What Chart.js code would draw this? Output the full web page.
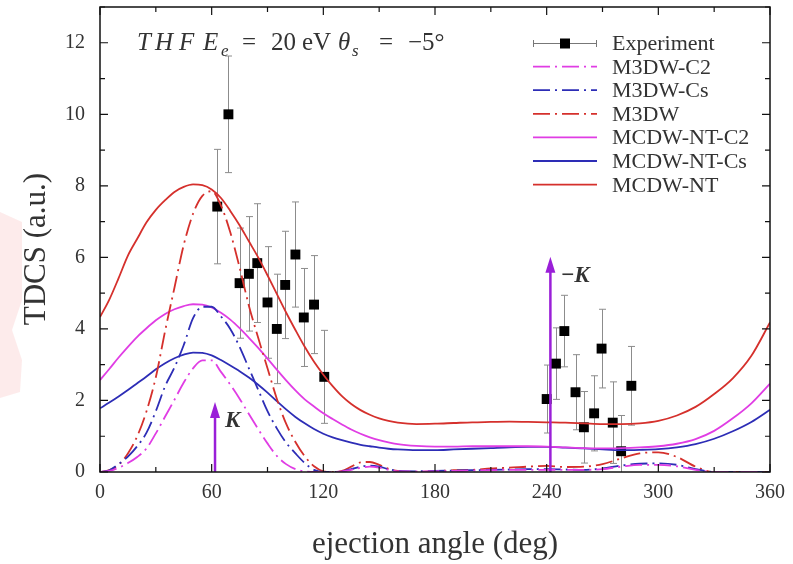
<!DOCTYPE html>
<html><head><meta charset="utf-8">
<script src="https://cdn.jsdelivr.net/npm/chart.js@4.4.1/dist/chart.umd.min.js"></script>
<style>
html,body{margin:0;padding:0;background:#fff;}
#wrap{position:relative;width:793px;height:564px;overflow:hidden;}
canvas{display:block;}
</style></head><body>
<div id="wrap"><canvas id="c" width="793" height="564"></canvas></div>
<script>
// ---------- data ----------
const angles = [0,5,10,15,20,25,30,35,40,45,50,55,60,65,70,75,80,85,90,95,100,105,110,115,120,125,130,135,140,145,150,155,160,170,180,190,200,210,220,230,240,250,260,270,280,290,300,310,320,330,340,350,360];

const mcdwNT = [4.33,4.82,5.42,6.05,6.52,6.98,7.33,7.6,7.83,7.97,
8.04,8.02,7.9,7.66,7.3,6.9,6.45,6.0,5.5,4.98,
4.46,3.97,3.5,3.08,2.72,2.4,2.12,1.9,1.73,1.6,
1.5,1.43,1.38,1.34,1.35,1.37,1.39,1.4,1.41,1.4,
1.39,1.38,1.36,1.34,1.34,1.36,1.43,1.58,1.82,2.18,
2.62,3.25,4.18];

const mcdwNTC2 = [2.57,2.88,3.2,3.5,3.78,4.02,4.24,4.42,4.55,4.64,
4.69,4.68,4.6,4.45,4.26,4.02,3.75,3.47,3.17,2.86,
2.56,2.28,2.03,1.83,1.64,1.48,1.33,1.19,1.07,0.97,
0.89,0.83,0.78,0.73,0.71,0.71,0.72,0.72,0.72,0.72,
0.71,0.69,0.67,0.66,0.67,0.69,0.72,0.79,0.92,1.15,
1.5,1.92,2.47];

const mcdwNTCs = [1.78,1.94,2.11,2.29,2.48,2.67,2.87,3.04,3.18,3.28,
3.34,3.33,3.26,3.13,2.98,2.82,2.64,2.44,2.22,1.98,
1.75,1.54,1.36,1.2,1.07,0.97,0.89,0.82,0.76,0.72,
0.68,0.65,0.63,0.61,0.61,0.63,0.65,0.67,0.69,0.7,
0.7,0.68,0.66,0.63,0.61,0.62,0.64,0.69,0.78,0.93,
1.14,1.4,1.74];

const m3dw = [0,0.05,0.2,0.52,1.0,1.7,2.65,3.95,5.15,6.35,
7.22,7.72,7.85,7.45,6.7,5.72,4.65,3.75,2.9,2.05,
1.35,0.84,0.44,0.16,0.02,0,0.03,0.15,0.27,0.28,
0.2,0.09,0.03,0,0.02,0.05,0.06,0.1,0.12,0.15,
0.17,0.14,0.15,0.22,0.38,0.52,0.55,0.42,0.15,0,
0,0,0];

const m3dwCs = [0,0.05,0.22,0.43,0.72,1.1,1.7,2.4,2.92,3.55,
4.3,4.62,4.62,4.35,4.0,3.5,2.9,2.3,1.7,1.22,
0.82,0.52,0.25,0.06,0,0,0.02,0.08,0.15,0.18,
0.15,0.08,0.03,0.02,0.03,0.04,0.05,0.06,0.07,0.08,
0.08,0.07,0.06,0.1,0.18,0.23,0.24,0.2,0.08,0,
0,0,0];

const m3dwC2 = [0,0.03,0.12,0.25,0.42,0.66,1.08,1.55,2.02,2.5,
2.9,3.12,3.12,2.8,2.44,2.05,1.62,1.2,0.8,0.45,
0.22,0.08,0.02,0,0,0,0.02,0.06,0.12,0.15,
0.12,0.06,0.02,0.02,0.02,0.03,0.04,0.05,0.06,0.06,
0.06,0.06,0.06,0.08,0.15,0.2,0.2,0.16,0.06,0,
0,0,0];

const expAngle = [63,69,75,80,84.5,90,95,99.5,105,109.5,115,120.5,240,245,249.5,255.5,260,265.5,269.5,275.5,280,285.5];
const expTDCS  = [7.42,10.0,5.28,5.54,5.84,4.74,4.0,5.23,6.08,4.32,4.68,2.66,2.04,3.03,3.94,2.23,1.25,1.64,3.45,1.38,0.58,2.41];
const expErr   = [1.6,1.63,1.54,1.6,1.66,1.56,1.53,1.5,1.47,1.37,1.37,1.3,0.95,1.0,1.0,1.05,1.0,1.05,1.1,1.14,1.0,1.1];

const arrowAngles = [61.8, 242];
const arrowTops   = [1.96, 6.02];
const arrowLabels = ['K', '\u2212K'];

const xTickLabels = [0,60,120,180,240,300,360];
const yTickLabels = [0,2,4,6,8,10,12];

const seriesNames = ['Experiment','M3DW-C2','M3DW-Cs','M3DW','MCDW-NT-C2','MCDW-NT-Cs','MCDW-NT'];
const yTitle = 'TDCS (a.u.)';

// ---------- styles ----------
const RED = '#d5302c', MAG = '#e03de4', BLUE = '#2d2db6', PURP = '#9a1fd8';
const DASHDOT = [17,5,2,5];
const SERIF = "'Liberation Serif', 'Times New Roman', serif";
const TXT = '#333';

const pts = arr => angles.map((a,i)=>({x:a, y:arr[i]}));

function lineDs(label, arr, color, dash){
  return {label, data: pts(arr), borderColor: color, backgroundColor: color,
    borderWidth: 1.8, borderDash: dash || [], pointRadius: 0, fill: false,
    cubicInterpolationMode: 'monotone', order: 1};
}

const datasets = [
  {label:'Experiment', data: expAngle.map((a,i)=>({x:a,y:expTDCS[i]})), showLine:false,
   pointStyle:'rect', pointRadius:7, backgroundColor:'#000', borderColor:'#000', borderWidth:0, order: 10},
  lineDs('M3DW-C2', m3dwC2, MAG, DASHDOT),
  lineDs('M3DW-Cs', m3dwCs, BLUE, DASHDOT),
  lineDs('M3DW', m3dw, RED, DASHDOT),
  lineDs('MCDW-NT-C2', mcdwNTC2, MAG),
  lineDs('MCDW-NT-Cs', mcdwNTCs, BLUE),
  lineDs('MCDW-NT', mcdwNT, RED)
];

// ---------- plugins ----------
const errorBars = {
  id:'errorBars',
  beforeDatasetsDraw(chart){
    const {ctx, chartArea:ca, scales:{x,y}} = chart;
    ctx.save();
    ctx.beginPath(); ctx.rect(ca.left, ca.top, ca.right-ca.left, ca.bottom-ca.top); ctx.clip();
    ctx.strokeStyle = '#8c8c8c'; ctx.lineWidth = 1;
    expAngle.forEach((a,i)=>{
      const px = Math.round(x.getPixelForValue(a))+0.5;
      const yt = y.getPixelForValue(expTDCS[i]+expErr[i]);
      const yb = y.getPixelForValue(expTDCS[i]-expErr[i]);
      ctx.beginPath();
      ctx.moveTo(px, yt); ctx.lineTo(px, yb);
      ctx.moveTo(px-3.5, yt); ctx.lineTo(px+3.5, yt);
      ctx.moveTo(px-3.5, yb); ctx.lineTo(px+3.5, yb);
      ctx.stroke();
    });
    ctx.restore();
  }
};

const frame = {
  id:'frame',
  beforeDraw(chart){
    const {ctx} = chart;
    ctx.save();
    ctx.fillStyle = '#fff'; ctx.fillRect(0,0,chart.width,chart.height);
    // faint pink watermark at left edge
    ctx.fillStyle = 'rgba(245,170,170,0.24)';
    ctx.beginPath();
    ctx.moveTo(0,212); ctx.lineTo(22,222); ctx.lineTo(22,300); ctx.lineTo(12,330);
    ctx.lineTo(22,360); ctx.lineTo(20,392); ctx.lineTo(0,398); ctx.closePath(); ctx.fill();
    ctx.restore();
  },
  afterDatasetsDraw(chart){
    const {ctx, chartArea:ca, scales:{x,y}} = chart;
    ctx.save();
    // arrows
    ctx.lineWidth = 2.5;
    arrowAngles.forEach((a,i)=>{
      const px = x.getPixelForValue(a);
      const y0 = y.getPixelForValue(0);
      const yt = y.getPixelForValue(arrowTops[i]);
      ctx.strokeStyle = PURP; ctx.fillStyle = PURP;
      ctx.beginPath(); ctx.moveTo(px, y0); ctx.lineTo(px, yt+12); ctx.stroke();
      ctx.beginPath(); ctx.moveTo(px, yt); ctx.lineTo(px-5, yt+16); ctx.lineTo(px+5, yt+16); ctx.closePath(); ctx.fill();
      ctx.fillStyle = TXT;
      ctx.font = "bold italic 23px " + SERIF;
      ctx.textBaseline = 'middle'; ctx.textAlign = 'left';
      ctx.fillText(arrowLabels[i], px+10, yt+19);
    });
    // border
    ctx.strokeStyle = '#111'; ctx.lineWidth = 1.5;
    ctx.strokeRect(ca.left, ca.top, ca.right-ca.left, ca.bottom-ca.top);
    // inward ticks
    ctx.lineWidth = 1.2;
    ctx.beginPath();
    for (let v=0; v<=360; v+=30){
      const px = x.getPixelForValue(v); const len = (v%60===0)?8:5;
      ctx.moveTo(px, ca.bottom); ctx.lineTo(px, ca.bottom-len);
      ctx.moveTo(px, ca.top); ctx.lineTo(px, ca.top+len);
    }
    for (let v=0; v<=13; v+=1){
      const py = y.getPixelForValue(v); const len = (v%2===0)?8:5;
      ctx.moveTo(ca.left, py); ctx.lineTo(ca.left+len, py);
      ctx.moveTo(ca.right, py); ctx.lineTo(ca.right-len, py);
    }
    ctx.stroke();
    ctx.restore();
  },
  afterDraw(chart){
    const {ctx} = chart;
    ctx.save();
    // y axis title
    ctx.save();
    ctx.translate(37, 249); ctx.rotate(-Math.PI/2);
    ctx.fillStyle = TXT; ctx.font = "31px " + SERIF;
    ctx.textAlign = 'center'; ctx.textBaseline = 'middle';
    ctx.fillText(yTitle, 0, 0);
    ctx.restore();

    // title text (math style)
    ctx.fillStyle = TXT; ctx.textBaseline = 'alphabetic'; ctx.textAlign = 'left';
    const it = "italic 25px " + SERIF, rm = "25px " + SERIF, sb = "italic 17px " + SERIF;
    const parts = [
      ['T',137,50,it],['H',155,50,it],['F',179,50,it],
      ['E',203,50,it],['e',221,56,sb],
      ['=',242,50,rm],['20',271,50,rm],['eV',302,50,rm],
      ['\u03B8',338,50,it],['s',352,56,sb],
      ['=',379,50,rm],['\u22125\u00B0',408,50,rm]
    ];
    parts.forEach(p=>{ ctx.font = p[3]; ctx.fillText(p[0], p[1], p[2]); });

    // legend
    const x0 = 533, x1 = 597, tx = 612, ry0 = 43, dy = 23.6;
    ctx.font = "22px " + SERIF;
    seriesNames.forEach((name,i)=>{
      const ry = ry0 + i*dy;
      ctx.save();
      if (i===0){
        ctx.strokeStyle = '#777'; ctx.lineWidth = 1;
        ctx.beginPath(); ctx.moveTo(x0, ry+0.5); ctx.lineTo(x1, ry+0.5);
        ctx.moveTo(x0+0.5, ry-3); ctx.lineTo(x0+0.5, ry+4);
        ctx.moveTo(x1-0.5, ry-3); ctx.lineTo(x1-0.5, ry+4);
        ctx.stroke();
        ctx.fillStyle = '#000'; ctx.fillRect((x0+x1)/2-5, ry-4.5, 10, 10);
      } else {
        const ds = datasets[i];
        ctx.strokeStyle = ds.borderColor; ctx.lineWidth = 1.8;
        ctx.setLineDash(ds.borderDash);
        ctx.beginPath(); ctx.moveTo(x0, ry); ctx.lineTo(x1, ry); ctx.stroke();
      }
      ctx.restore();
      ctx.fillStyle = TXT; ctx.textBaseline = 'alphabetic';
      ctx.fillText(name, tx, ry+7);
    });
    ctx.restore();
  }
};

new Chart(document.getElementById('c'), {
  type:'line',
  data:{datasets},
  options:{
    responsive:false, animation:false, devicePixelRatio:1,
    layout:{padding:{top:7, right:23, left:0, bottom:0}},
    plugins:{legend:{display:false}, tooltip:{enabled:false}},
    scales:{
      x:{type:'linear', min:0, max:360,
        afterBuildTicks: s => { s.ticks = xTickLabels.map(v=>({value:v})); },
        afterFit: s => { s.height = 92; s.paddingLeft = 0; s.paddingRight = 0; },
        grid:{display:false, drawTicks:false},
        border:{display:false},
        ticks:{padding:9, color:TXT, font:{family:SERIF, size:20}, maxRotation:0},
        title:{display:true, text:'ejection angle (deg)', color:TXT, font:{family:SERIF, size:31}, padding:{top:0,bottom:1}}
      },
      y:{type:'linear', min:0, max:13,
        afterBuildTicks: s => { s.ticks = yTickLabels.map(v=>({value:v})); },
        afterFit: s => { s.width = 100; s.paddingTop = 0; s.paddingBottom = 0; },
        grid:{display:false, drawTicks:false},
        border:{display:false},
        ticks:{padding:15, color:TXT, font:{family:SERIF, size:20}},
        title:{display:false}
      }
    }
  },
  plugins:[errorBars, frame]
});
</script>
</body></html>
